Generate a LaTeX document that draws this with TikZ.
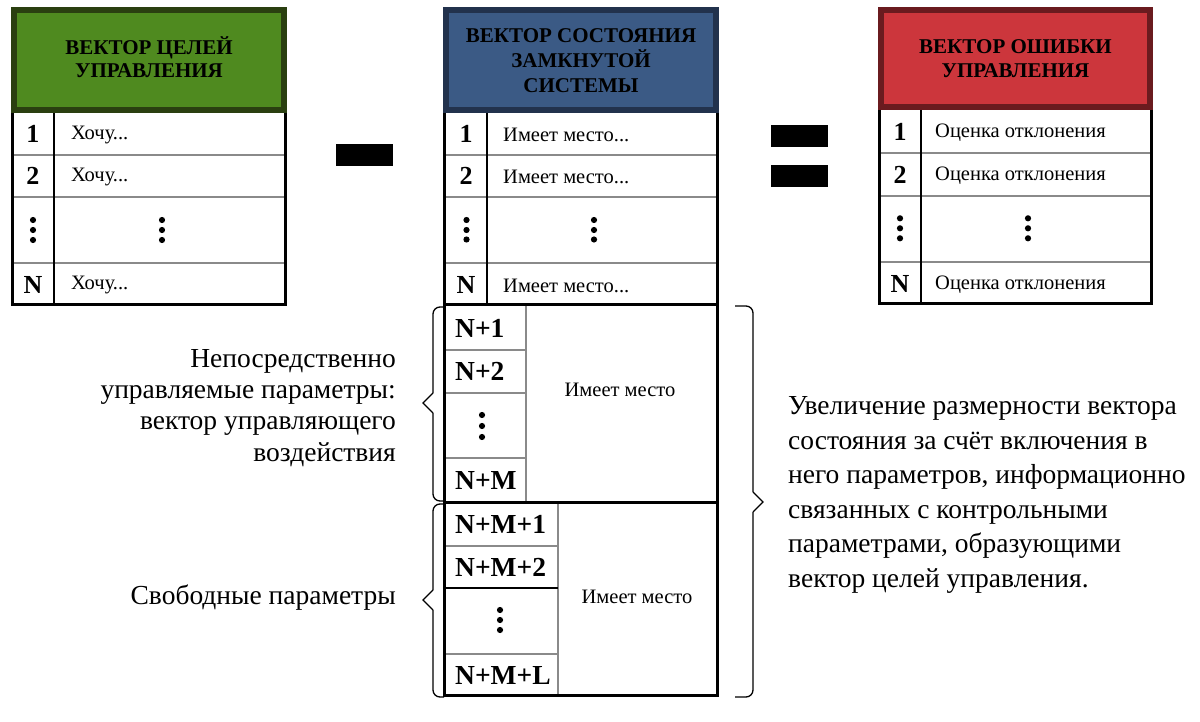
\documentclass[tikz,border=0pt]{standalone}
\usepackage{fontspec}
\setmainfont{Liberation Serif}
\definecolor{gfill}{HTML}{4F8A1F}
\definecolor{gline}{HTML}{2A3F10}
\definecolor{bfill}{HTML}{3B5A85}
\definecolor{bline}{HTML}{22324D}
\definecolor{rfill}{HTML}{CC363C}
\definecolor{rline}{HTML}{6A1B1F}
\definecolor{rowgray}{HTML}{8A8A8A}
\newcommand\mydots[4]{\fill (#1,#2) circle (3.1) (#1,#3) circle (3.1) (#1,#4) circle (3.1);}
\tikzset{
  outer/.style={line width=3pt, draw=black},
  rowline/.style={line width=1.3pt, draw=rowgray},
  coldiv/.style={line width=1.2pt, draw=black},
  hdr/.style={font=\fontsize{21}{23.5}\selectfont\bfseries, align=center, inner sep=0pt},
  num/.style={font=\fontsize{26}{26}\selectfont\bfseries, inner sep=0pt},
  lnum/.style={font=\fontsize{27.5}{27.5}\selectfont\bfseries, inner sep=0pt, anchor=west},
  cell/.style={font=\fontsize{20.5}{22}\selectfont, inner sep=0pt, anchor=west},
  note/.style={font=\fontsize{27.5}{31.3}\selectfont, inner sep=0pt},
  brace/.style={line width=1.3pt, draw=black},
}
\begin{document}
\begin{tikzpicture}[x=1pt,y=-1pt]
\useasboundingbox (0,0) rectangle (1200,722);
% ===== left table =====
\draw[line width=6pt, draw=gline, fill=gfill] (14,10) rectangle (284,110);
\node[hdr] (lh) at (149,57) {ВЕКТОР ЦЕЛЕЙ\\УПРАВЛЕНИЯ};
\draw[rowline] (14,155) -- (284,155) (14,197) -- (284,197) (14,263) -- (284,263);
\draw[coldiv] (54,113) -- (54,304);
\draw[outer] (12.5,113) -- (12.5,304.5) -- (285.5,304.5) -- (285.5,113);
\node[num] (l1) at (33,134) {1};
\node[num] (l2) at (33,176) {2};
\node[num] (lN) at (33,284.5) {N};
\node[cell] (lt1) at (71,135) {Хочу...};
\node[cell] (lt2) at (71,177) {Хочу...};
\node[cell] (ltN) at (71,285.5) {Хочу...};
\mydots{33}{220}{230}{240}
\mydots{162}{220}{230}{240}
% minus
\fill (336,144) rectangle (393,166);
% ===== middle table =====
\draw[line width=6pt, draw=bline, fill=bfill] (446,10) rectangle (716,110);
\node[hdr, font=\fontsize{21}{25}\selectfont\bfseries] (mh) at (581,61) {ВЕКТОР СОСТОЯНИЯ\\ЗАМКНУТОЙ\\СИСТЕМЫ};
\draw[rowline] (446,155) -- (716,155) (446,197) -- (716,197) (446,263) -- (716,263);
\draw[coldiv] (487,113) -- (487,304);
\node[num] (m1) at (466,134) {1};
\node[num] (m2) at (466,176) {2};
\node[num] (mN) at (466,284.5) {N};
\node[cell] (mt1) at (503,135) {Имеет место...};
\node[cell] (mt2) at (503,177) {Имеет место...};
\node[cell] (mtN) at (503,285.5) {Имеет место...};
\mydots{466.5}{220}{230}{239.5}
\mydots{594}{220}{230}{239.5}
% lower blocks
\draw[rowline] (526,306) -- (526,501);
\draw[rowline] (446,350) -- (526,350) (446,393) -- (526,393) (446,458) -- (526,458);
\draw[rowline] (558,503) -- (558,695);
\draw[rowline] (446,546) -- (558,546) (446,654) -- (558,654);
\draw[coldiv] (446,588) -- (558,588);
\draw[outer] (444.5,113) -- (444.5,695.5) -- (717.5,695.5) -- (717.5,113);
\draw[outer] (444.5,304.5) -- (717.5,304.5);
\draw[outer] (444.5,502) -- (717.5,502);
\node[lnum] (n1) at (455,328.5) {N+1};
\node[lnum] (n2) at (455,371.5) {N+2};
\node[lnum] (nM) at (455,480) {N+M};
\mydots{482}{415}{426}{437}
\node[cell, anchor=center] (b1) at (620,390) {Имеет место};
\node[lnum] (nm1) at (455,524) {N+M+1};
\node[lnum] (nm2) at (455,567) {N+M+2};
\node[lnum] (nmL) at (455,675.5) {N+M+L};
\mydots{500}{610}{620}{630}
\node[cell, anchor=center] (b2) at (637,597) {Имеет место};
% equals
\fill (771,125) rectangle (828,147);
\fill (771,165) rectangle (828,187);
% ===== right table =====
\draw[line width=6pt, draw=rline, fill=rfill] (881,10) rectangle (1150,107);
\node[hdr] (rh) at (1015.5,58.5) {ВЕКТОР ОШИБКИ\\УПРАВЛЕНИЯ};
\draw[rowline] (881,153) -- (1150,153) (881,196) -- (1150,196) (881,262) -- (1150,262);
\draw[coldiv] (921,110) -- (921,303);
\draw[outer] (879.5,110) -- (879.5,303.5) -- (1151.5,303.5) -- (1151.5,110);
\node[num] (r1) at (900,131.5) {1};
\node[num] (r2) at (900,174.5) {2};
\node[num] (rN) at (900,283.5) {N};
\node[cell] (rt1) at (935,132.5) {Оценка отклонения};
\node[cell] (rt2) at (935,175.5) {Оценка отклонения};
\node[cell] (rtN) at (935,284.5) {Оценка отклонения};
\mydots{900}{218.3}{228.3}{238.3}
\mydots{1028}{218.3}{228.3}{238.3}
% ===== braces =====
\draw[brace, rounded corners=7] (444,307) -| (433,393);
\draw[brace] (433,393) -- (423,403) -- (433,413);
\draw[brace, rounded corners=7] (433,413) |- (444,501);
\draw[brace, rounded corners=7] (444,504) -| (433,590);
\draw[brace] (433,590) -- (423,600) -- (433,610);
\draw[brace, rounded corners=7] (433,610) |- (444,697);
\draw[brace, rounded corners=7] (735,306) -| (753,492);
\draw[brace] (753,492) -- (763,502) -- (753,512);
\draw[brace, rounded corners=7] (753,512) |- (735,697);
% ===== notes =====
\node[note, align=right, anchor=east] (tl) at (396,408) {Непосредственно\\управляемые параметры:\\вектор управляющего\\воздействия};
\node[note, anchor=east] (tf) at (396,598) {Свободные параметры};
\node[note, align=left, anchor=west, font=\fontsize{27.5}{34.6}\selectfont] (tr) at (788,495) {Увеличение размерности вектора\\состояния за счёт включения в\\него параметров, информационно\\связанных с контрольными\\параметрами, образующими\\вектор целей управления.};
\end{tikzpicture}
\end{document}
